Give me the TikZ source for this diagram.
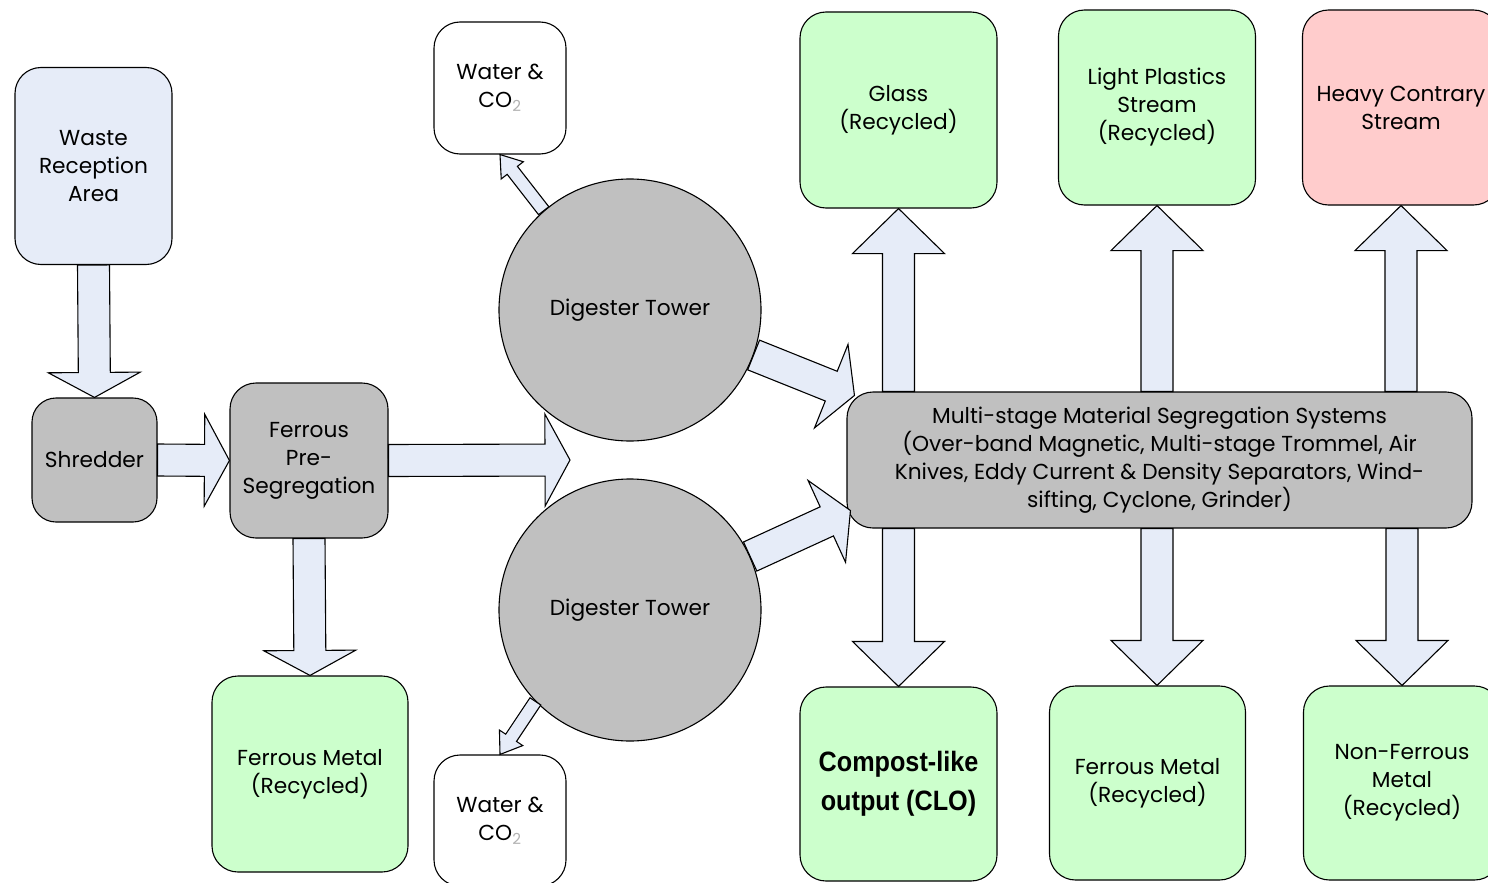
\documentclass[tikz,border=0pt]{standalone}
\usepackage{fontspec}
\setmainfont{Poppins}
\newfontfamily\clofont{Liberation Sans}[FakeStretch=0.9]
\usetikzlibrary{calc}
\definecolor{flowblue}{RGB}{230, 236, 248}
\definecolor{unitgray}{RGB}{192, 192, 192}
\definecolor{outgreen}{RGB}{204, 255, 204}
\definecolor{rejectpink}{RGB}{255, 204, 204}

% block arrow: [style] start, end, shaft half width, head half width, head length
\newcommand{\flowarrow}[6][]{%
  \coordinate (fa-s) at (#2);
  \coordinate (fa-e) at (#3);
  \coordinate (fa-m) at ($(fa-e)!#6!(fa-s)$);
  \draw[flowshape, #1] ($(fa-s)!#4!90:(fa-e)$) -- ($(fa-m)!#4!-90:(fa-s)$)
    -- ($(fa-m)!#5!-90:(fa-s)$) -- (fa-e) -- ($(fa-m)!#5!90:(fa-s)$)
    -- ($(fa-m)!#4!90:(fa-s)$) -- ($(fa-s)!#4!-90:(fa-e)$) -- cycle;
}

\begin{document}
\begin{tikzpicture}[x=1pt, y=-1pt,
  box/.style={draw, line width=1.1pt, rounded corners=26pt, align=center, inner sep=3pt, font=\fontsize{21.7}{28}\selectfont},
  unitbox/.style={box, fill=unitgray},
  outbox/.style={box, fill=outgreen},
  tower/.style={circle, draw, line width=1.1pt, fill=unitgray, minimum size=262pt, inner sep=0pt, font=\fontsize{21.7}{28}\selectfont},
  flowshape/.style={draw, line width=1.1pt, fill=flowblue, line join=miter}]
  \useasboundingbox (0,0) rectangle (1488,883);

  % Input side
  \node[box, fill=flowblue, minimum width=157pt, minimum height=197pt] (waste) at (93.5,166) {Waste\\Reception\\Area};
  \node[unitbox, rounded corners=24pt, minimum width=125pt, minimum height=124pt] (shred) at (94.5,460) {Shredder};
  \node[unitbox, minimum width=158pt, minimum height=155pt] (ferr) at (309,460.5) {Ferrous\\Pre-\\Segregation};
  \node[outbox, minimum width=196pt, minimum height=196pt] (fm1) at (310,774) {Ferrous Metal\\(Recycled)};

  % Digesters
  \node[tower] (dig1) at (630,310) {Digester Tower};
  \node[tower] (dig2) at (630,610) {Digester Tower};
  \node[box, fill=white, minimum width=132pt, minimum height=132pt] (wat1) at (500,88) {Water \&\\CO\textsubscript{\color{gray!60}2}};
  \node[box, fill=white, minimum width=132pt, minimum height=131pt] (wat2) at (500,820.5) {Water \&\\CO\textsubscript{\color{gray!60}2}};
  \coordinate (split) at (570,460);

  % Segregation and outputs
  \node[unitbox, minimum width=625pt, minimum height=136pt] (mss) at (1159.5,460) {Multi-stage Material Segregation Systems\\(Over-band Magnetic, Multi-stage Trommel, Air\\Knives, Eddy Current \& Density Separators, Wind-\\sifting, Cyclone, Grinder)};
  \node[outbox, minimum width=197pt, minimum height=196pt] (glass) at (898.5,110) {Glass\\(Recycled)};
  \node[outbox, minimum width=197pt, minimum height=195pt] (lplast) at (1157,107.5) {Light Plastics\\Stream\\(Recycled)};
  \node[box, fill=rejectpink, minimum width=197pt, minimum height=195pt] (heavy) at (1401,107.5) {Heavy Contrary\\Stream};
  \node[outbox, minimum width=197pt, minimum height=194pt, font=\clofont\bfseries\fontsize{28}{39}\selectfont] (clo) at (898.5,784) {Compost-like\\output (CLO)};
  \node[outbox, minimum width=196pt, minimum height=194pt] (fm2) at (1147.5,783) {Ferrous Metal\\(Recycled)};
  \node[outbox, minimum width=197pt, minimum height=194pt] (nonfer) at (1402,783) {Non-Ferrous\\Metal\\(Recycled)};
  \coordinate (mss-in1) at ($(mss.north west)+(8,4)$);
  \coordinate (mss-in2) at ($(mss.south west)+(4,-18)$);

  % Flows
  \flowarrow{waste.south}{shred.north}{16pt}{46pt}{25pt}
  \flowarrow{shred.east}{ferr.west}{16pt}{46pt}{25pt}
  \flowarrow{ferr.south}{fm1.north}{16pt}{46pt}{25pt}
  \flowarrow{ferr.east}{split}{16pt}{46pt}{25pt}
  \flowarrow{dig1.-20}{mss-in1}{16pt}{45pt}{25pt}
  \flowarrow{dig2.24}{mss-in2}{16pt}{45pt}{26pt}
  \flowarrow{dig1.131}{wat1.south}{6.5pt}{14pt}{20pt}
  \flowarrow{dig2.224}{wat2.north}{6.5pt}{14pt}{20pt}
  \flowarrow{glass.south |- mss.north}{glass.south}{16pt}{46pt}{45pt}
  \flowarrow{lplast.south |- mss.north}{lplast.south}{16pt}{46pt}{45pt}
  \flowarrow{heavy.south |- mss.north}{heavy.south}{16pt}{46pt}{45pt}
  \flowarrow{clo.north |- mss.south}{clo.north}{16pt}{46pt}{45pt}
  \flowarrow{lplast.south |- mss.south}{lplast.south |- fm2.north}{16pt}{46pt}{45pt}
  \flowarrow{nonfer.north |- mss.south}{nonfer.north}{16pt}{46pt}{45pt}
\end{tikzpicture}
\end{document}
